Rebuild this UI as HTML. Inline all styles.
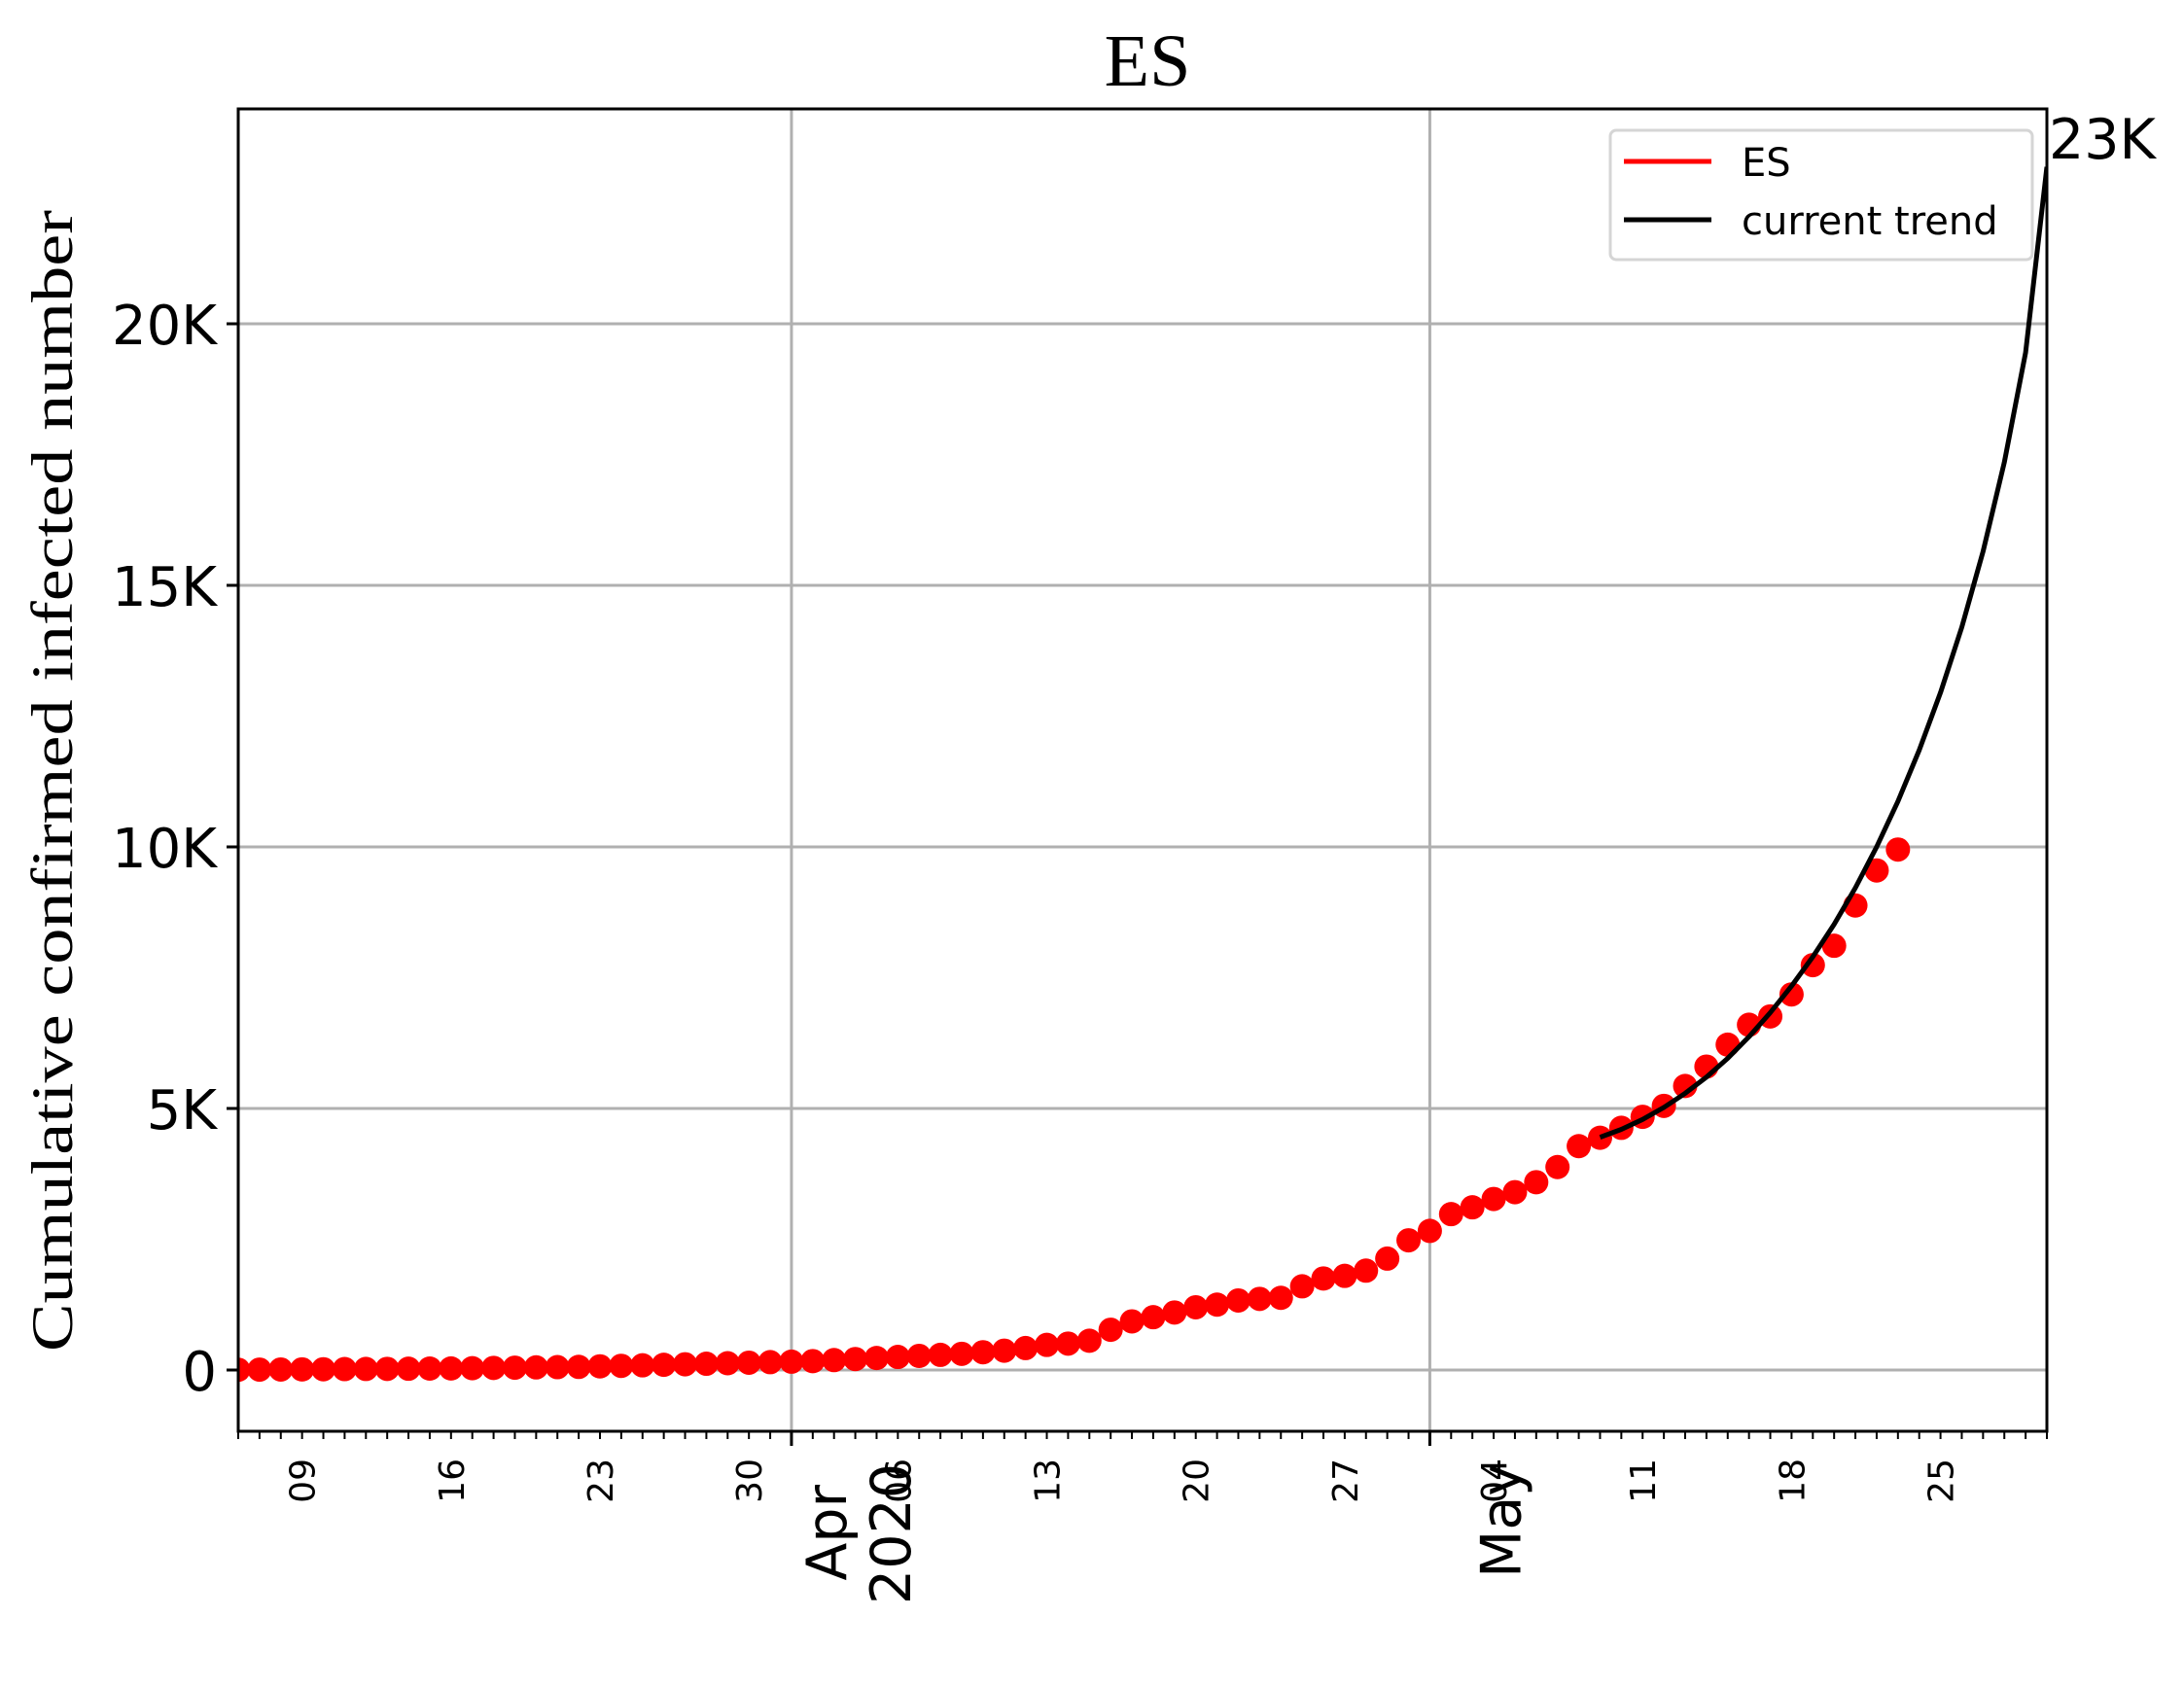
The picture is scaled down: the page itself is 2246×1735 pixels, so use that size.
<!DOCTYPE html>
<html><head><meta charset="utf-8"><style>
html,body{margin:0;padding:0;background:#fff;}
svg{display:block;}
</style></head><body>
<svg id="chart" width="2246" height="1735" viewBox="0 0 2246 1735" xmlns="http://www.w3.org/2000/svg">
<defs><clipPath id="plotclip"><rect x="245" y="112" width="1860" height="1360"/></clipPath></defs>
<rect width="2246" height="1735" fill="#fff"/>
<text x="1180" y="88" font-family="Liberation Serif, serif" font-size="76" text-anchor="middle">ES</text>
<text transform="translate(74,803) rotate(-90)" font-family="Liberation Serif, serif" font-size="60" text-anchor="middle" textLength="1174" lengthAdjust="spacingAndGlyphs">Cumulative confirmed infected number</text>
<g id="grid"></g>
<g id="series" clip-path="url(#plotclip)"></g>
<g id="axes"></g>
</svg>
<script>
// Day 0 = 2020-03-06
const esValues = [5,8,10,12,15,18,20,22,25,28,30,35,40,45,50,55,60,70,80,90,100,110,120,130,140,150,160,170,190,210,230,250,270,290,310,340,370,420,480,505,560,770,930,1010,1100,1200,1250,1330,1360,1380,1600,1750,1800,1900,2130,2480,2660,2980,3110,3270,3400,3590,3880,4280,4440,4630,4840,5050,5430,5800,6220,6600,6760,7180,7740,8110,8880,9550,9950];
const trendStartDay = 64;
const trendValues = [4450,4600,4790,5020,5290,5600,5960,6370,6830,7340,7900,8520,9220,10000,10870,11850,12950,14200,15650,17350,19450,23000];
const yTicks = [0,5000,10000,15000,20000];
const yTickLabels = ["0","5K","10K","15K","20K"];
const minorLabelDays = [3,10,17,24,31,38,45,52,59,66,73,80];
const minorLabels = ["09","16","23","30","06","13","20","27","04","11","18","25"];
const majorDays = [26,56];
const majorLabels = [["Apr","2020"],["May"]];
const endLabel = "23K";

const L=245,R=2105,T=112,B=1472,D0=0,D1=85,V0=-1171,V1=24108;
const xs=d=>L+(d-D0)/(D1-D0)*(R-L);
const ys=v=>B-(v-V0)/(V1-V0)*(B-T);
const NS="http://www.w3.org/2000/svg";
function mk(tag,attrs,parent){const e=document.createElementNS(NS,tag);for(const k in attrs)e.setAttribute(k,attrs[k]);parent.appendChild(e);return e;}
const grid=document.getElementById('grid'),series=document.getElementById('series'),axes=document.getElementById('axes'),svg=document.getElementById('chart');

yTicks.forEach((v,i)=>{
  const g=mk('line',{x1:L,x2:R,y1:ys(v),y2:ys(v),stroke:'#b0b0b0','stroke-width':3},grid);
  
  
  const t=mk('line',{x1:L-12,x2:L,y1:ys(v),y2:ys(v),stroke:'#000','stroke-width':3},axes);
  
  
  const tx=mk('text',{x:L-22,y:ys(v)+21,'text-anchor':'end','font-family':'DejaVu Sans, Liberation Sans, sans-serif','font-size':56},axes);
  tx.textContent=yTickLabels[i];
  
  
});
majorDays.forEach((d,i)=>{
  const g=mk('line',{x1:xs(d),x2:xs(d),y1:T,y2:B,stroke:'#b0b0b0','stroke-width':3},grid);
  
  
});
esValues.forEach((v,d)=>{
  const c=mk('circle',{cx:xs(d),cy:ys(v),r:12.5,fill:'#ff0000'},series);
  
  
});
const pts=trendValues.map((v,i)=>xs(trendStartDay+i).toFixed(1)+','+ys(v).toFixed(1)).join(' ');
const tl=mk('polyline',{points:pts,fill:'none',stroke:'#000','stroke-width':5,'stroke-linejoin':'round'},series);


const fr=mk('rect',{x:L,y:T,width:R-L,height:B-T,fill:'none',stroke:'#000','stroke-width':3},axes);


for(let d=D0;d<=D1;d++){
  const m=mk('line',{x1:xs(d),x2:xs(d),y1:B,y2:B+8,stroke:'#000','stroke-width':2},axes);
  
  
}
minorLabelDays.forEach((d,i)=>{
  const t=mk('text',{transform:`translate(${xs(d)+13},1500) rotate(-90)`,'text-anchor':'end','font-family':'DejaVu Sans, Liberation Sans, sans-serif','font-size':36},axes);
  t.textContent=minorLabels[i];
  
  
});
majorDays.forEach((d,i)=>{
  const m=mk('line',{x1:xs(d),x2:xs(d),y1:B,y2:B+15,stroke:'#000','stroke-width':3},axes);
  
  
  const lines=majorLabels[i];
  lines.forEach((s,j)=>{
    const cx = lines.length===1 ? xs(d)+93 : xs(d)+56+j*66;
    const cy = lines.length===1 ? 1505 : (j===0?1527:1505);
    const t=mk('text',{transform:`translate(${cx},${cy}) rotate(-90)`,'text-anchor':'end','font-family':'DejaVu Sans, Liberation Sans, sans-serif','font-size':57},axes);
    t.textContent=s;
    
    
  });
});
const el=mk('text',{x:R+2,y:163,'font-family':'DejaVu Sans, Liberation Sans, sans-serif','font-size':57},svg);
el.textContent=endLabel;


const lg=mk('g',{},svg);


mk('rect',{x:1656,y:134,width:434,height:133,rx:6,fill:'#fff','fill-opacity':0.8,stroke:'#d5d5d5','stroke-width':3},lg);
const e1=mk('line',{x1:1670,x2:1760,y1:166,y2:166,stroke:'#ff0000','stroke-width':5},lg);


const t1=mk('text',{x:1791,y:181,'font-family':'DejaVu Sans, Liberation Sans, sans-serif','font-size':40},lg);
t1.textContent='ES';


const e2=mk('line',{x1:1670,x2:1760,y1:226,y2:226,stroke:'#000','stroke-width':5},lg);


const t2=mk('text',{x:1791,y:241,'font-family':'DejaVu Sans, Liberation Sans, sans-serif','font-size':40},lg);
t2.textContent='current trend';


</script>
</body></html>
